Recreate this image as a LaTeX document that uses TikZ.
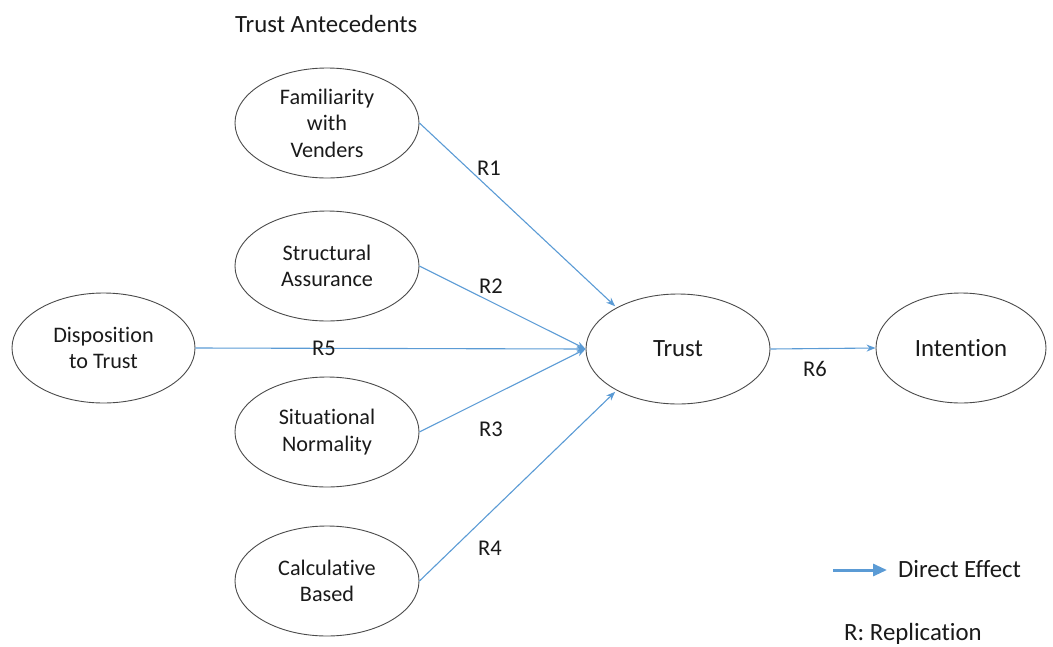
\documentclass[tikz,border=0pt]{standalone}
\usepackage{fontspec}
\setmainfont{Carlito}[Ligatures={NoCommon,NoRequired,NoContextual}]
\usetikzlibrary{shapes.geometric,arrows.meta}
\definecolor{arrowblue}{HTML}{5B9BD5}
\definecolor{outline}{HTML}{4A4A4A}
\definecolor{txt}{HTML}{1A1A1A}
\begin{document}
\begin{tikzpicture}[x=1pt,y=-1pt,
  oval/.style={ellipse, draw=outline, line width=0.9pt, minimum width=184pt, minimum height=110pt,
    inner sep=0pt, align=center, text=txt, font=\fontsize{22.2}{26.5}\selectfont},
  bigoval/.style={oval, font=\fontsize{24.8}{29}\selectfont},
  arr/.style={draw=arrowblue, line width=1.1pt, -{Stealth[length=9pt,width=7pt]}},
  lbl/.style={text=txt, font=\fontsize{22.5}{27}\selectfont, inner sep=0pt},
  biglbl/.style={lbl, font=\fontsize{24.8}{29}\selectfont}]
\useasboundingbox (0,0) rectangle (1053,646);

\node[biglbl, anchor=base west] (title) at (235,32) {Trust Antecedents};

\node[oval] (fam) at (327,123) {Familiarity\\with\\Venders};
\node[oval] (str) at (327,266) {Structural\\Assurance};
\node[oval, minimum width=183pt] (dis) at (103.5,348) {Disposition\\to Trust};
\node[oval] (sit) at (327,432) {Situational\\Normality};
\node[oval] (cal) at (327,581) {Calculative\\Based};
\node[bigoval] (tru) at (678,349) {Trust};
\node[bigoval, minimum width=170pt] (int) at (961,348) {Intention};

\draw[arr, shorten >=2pt] (fam.east) -- (tru.146);
\draw[arr] (str.east) -- (tru.west);
\draw[arr] (dis.east) -- (tru.west);
\draw[arr] (sit.east) -- (tru.west);
\draw[arr, shorten >=2pt] (cal.east) -- (tru.214);
\draw[arr] (tru.east) -- (int.west);

\node[lbl] (r1) at (489,168) {R1};
\node[lbl] (r2) at (491,286) {R2};
\node[lbl] (r5) at (324,348) {R5};
\node[lbl] (r3) at (491,429) {R3};
\node[lbl] (r4) at (490,548) {R4};
\node[lbl] (r6) at (815,369) {R6};

\coordinate (lgA) at (833,570);
\coordinate (lgB) at (887,570);
\draw[draw=arrowblue, line width=3pt, -{Triangle[length=14pt,width=12pt]}] (lgA) -- (lgB);
\node[biglbl, anchor=west] (de) at (898,569) {Direct Effect};
\node[biglbl, anchor=base] (rr) at (913,640) {R: Replication};
\end{tikzpicture}
\end{document}
